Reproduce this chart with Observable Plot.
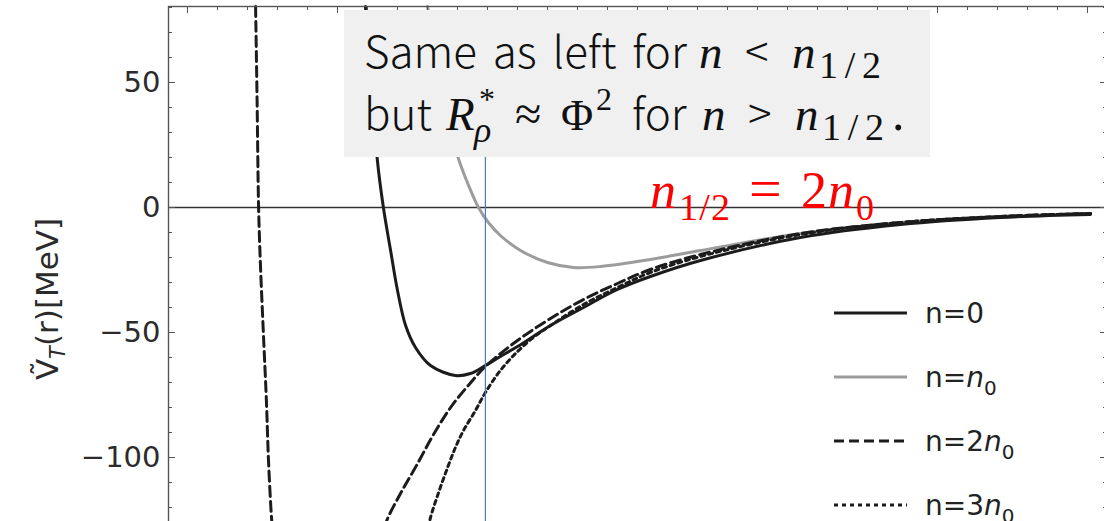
<!DOCTYPE html>
<html>
<head>
<meta charset="utf-8">
<script src="https://cdn.jsdelivr.net/npm/d3@7"></script>
<script src="https://cdn.jsdelivr.net/npm/@observablehq/plot@0.6"></script>
<style>
  html, body { margin: 0; padding: 0; background: #fff; }
  #chart { width: 1104px; height: 521px; overflow: hidden; }
</style>
</head>
<body>
<div id="chart"></div>
<script>
// Tensor potential V_T(r) [MeV] versus r for four densities.
// n = 0 (solid black)
const rN0 = [1.093, 1.113, 1.133, 1.153, 1.177, 1.200, 1.227, 1.260, 1.310, 1.393, 1.443, 1.493, 1.543, 1.600, 1.710, 1.820, 1.933, 2.043, 2.210, 2.543, 2.877, 3.210, 3.510];
const vN0 = [80.4, 49.6, 18.8, 0, -17.2, -33.2, -47.2, -56.0, -63.2, -67.2, -66.4, -63.2, -59.6, -55.6, -47.2, -40.0, -32.8, -27.6, -21.2, -12.0, -6.8, -4.0, -2.8];

// n = n0 (grey)
const rN1 = [1.300, 1.330, 1.360, 1.403, 1.437, 1.470, 1.503, 1.543, 1.610, 1.700, 1.787, 1.877, 2.043, 2.210, 2.543, 2.877, 3.210, 3.510];
const vN1 = [80.4, 58.8, 38.8, 19.6, 8.8, 0, -6.0, -11.2, -17.2, -22.0, -24.0, -23.6, -20.8, -17.2, -10.4, -6.0, -3.6, -2.4];

// n = 2n0 (dashed): inner branch dropping through the window, outer branch rising back
const rN2inner = [0.727, 0.732, 0.737, 0.743, 0.753, 0.763, 0.770, 0.780, 0.783];
const vN2inner = [80.4, 42.8, 0, -22.4, -50.4, -77.2, -101.2, -124.0, -128.0];
const rN2outer = [1.157, 1.167, 1.210, 1.267, 1.320, 1.377, 1.433, 1.493, 1.600, 1.710, 1.820, 1.933, 2.043, 2.210, 2.543, 2.877, 3.210, 3.510];
const vN2outer = [-128.0, -124.4, -114.4, -102.4, -90.8, -80.0, -71.6, -63.6, -53.2, -44.4, -36.8, -30.4, -24.8, -18.8, -10.4, -6.0, -3.6, -2.4];

// n = 3n0 (dotted)
const rN3 = [1.303, 1.310, 1.337, 1.367, 1.393, 1.420, 1.460, 1.493, 1.543, 1.600, 1.653, 1.710, 1.820, 1.933, 2.043, 2.210, 2.543, 2.877, 3.210, 3.510];
const vN3 = [-128.0, -124.0, -114.0, -104.0, -96.0, -89.2, -81.2, -74.0, -65.2, -57.6, -52.0, -47.2, -38.8, -32.0, -26.0, -19.6, -10.8, -6.0, -3.6, -2.4];

// n_{1/2} marker
const halfDensityR = [1.493];

// axes
const yLabelTicks = [50, 0, -50, -100];
const yMinorTicks = d3.range(-120, 81, 10);
const xMajorTicks = [0.5, 1.0, 1.5, 2.0, 2.5, 3.0, 3.5];
const xMinorTicks = d3.range(5, 36).map(d => d / 10);

const toRows = (rs, vs, branch) => rs.map((r, i) => ({r, v: vs[i], branch}));
const n0Rows = toRows(rN0, vN0, "a");
const n1Rows = toRows(rN1, vN1, "a");
const n2Rows = [...toRows(rN2inner, vN2inner, "inner"), ...toRows(rN2outer, vN2outer, "outer")];
const n3Rows = toRows(rN3, vN3, "a");

const minus = d => d < 0 ? "\u2212" + Math.abs(d) : String(d);
const frameGrey = "#555";
const blank = () => "";

const plot = Plot.plot({
  width: 1104,
  height: 521,
  marginLeft: 168,
  marginRight: -2,
  marginTop: 6,
  marginBottom: -11,
  style: {fontFamily: "DejaVu Sans", fontSize: "29px", color: "#2b2b2b", background: "#fff", overflow: "hidden"},
  x: {domain: [0.4367, 3.5633], axis: null},
  y: {domain: [-130, 80.4], axis: null},
  marks: [
    Plot.ruleY([0], {stroke: "#333", strokeWidth: 1.3}),
    Plot.line(n1Rows, {x: "r", y: "v", stroke: "#9c9c9c", strokeWidth: 3, curve: "catmull-rom"}),
    Plot.line(n0Rows, {x: "r", y: "v", stroke: "#1c1c1c", strokeWidth: 3, curve: "catmull-rom"}),
    Plot.line(n2Rows, {x: "r", y: "v", z: "branch", stroke: "#1c1c1c", strokeWidth: 3, strokeDasharray: "10,5", curve: "catmull-rom"}),
    Plot.line(n3Rows, {x: "r", y: "v", stroke: "#1c1c1c", strokeWidth: 3, strokeDasharray: "4,4", curve: "catmull-rom"}),
    Plot.ruleX(halfDensityR, {y1: 76.8, y2: -130, stroke: "#4a7ebf", strokeWidth: 1.2, ariaLabel: "threshold"}),
    Plot.frame({stroke: frameGrey, strokeWidth: 1.4}),
    Plot.axisY(yLabelTicks, {anchor: "left", tickSize: 0, tickPadding: 8, tickFormat: minus, label: null}),
    Plot.axisY(yMinorTicks, {anchor: "left", tickSize: -4, tickFormat: blank, label: null, stroke: frameGrey}),
    Plot.axisY(yLabelTicks, {anchor: "left", tickSize: -7, tickFormat: blank, label: null, stroke: frameGrey}),
    Plot.axisY(yMinorTicks, {anchor: "right", tickSize: -4, tickFormat: blank, label: null, stroke: frameGrey}),
    Plot.axisY(yLabelTicks, {anchor: "right", tickSize: -7, tickFormat: blank, label: null, stroke: frameGrey}),
    Plot.axisX(xMinorTicks, {anchor: "top", tickSize: -3, tickFormat: blank, label: null, stroke: frameGrey}),
    Plot.axisX(xMajorTicks, {anchor: "top", tickSize: -6, tickFormat: blank, label: null, stroke: frameGrey})
  ]
});
document.getElementById("chart").appendChild(plot);

// ---- annotations drawn into the same SVG ----
const svg = d3.select(plot);
const serif = "'Liberation Serif', 'DejaVu Serif', serif";
const body = "'Noto Sans CJK SC', 'Noto Sans', sans-serif";

// one <text> made of styled tspans; shift = baseline offset, x = absolute pen position
function richText(parent, x, y, parts, base) {
  const t = parent.append("text")
    .attr("x", x).attr("y", y)
    .attr("text-anchor", "start")
    .attr("font-family", base.family)
    .attr("font-size", base.size)
    .attr("font-weight", base.weight || null)
    .attr("word-spacing", base.wordSpacing || null)
    .attr("fill", base.fill);
  let shift = 0;
  for (const p of parts) {
    const s = t.append("tspan").text(p.t);
    const want = p.shift || 0;
    if (want !== shift) { s.attr("dy", want - shift); shift = want; }
    if (p.x != null) s.attr("x", p.x);
    if (p.dx) s.attr("dx", p.dx);
    if (p.family) s.attr("font-family", p.family);
    if (p.size) s.attr("font-size", p.size);
    if (p.italic) s.attr("font-style", "italic");
    if (p.weight) s.attr("font-weight", p.weight);
    if (p.len) s.attr("textLength", p.len).attr("lengthAdjust", "spacing");
  }
  return t;
}

// note box (sits under the n_{1/2} marker line)
svg.insert("rect", 'g[aria-label="threshold"]')
  .attr("x", 344).attr("y", 10).attr("width", 586).attr("height", 147)
  .attr("fill", "#f0f0f0");

const note = svg.append("g");
const m = {family: serif, size: 47, italic: true};
const sub = {family: serif, size: 38, shift: 10, len: 62};
const noteFont = {family: body, size: 44, weight: 300, wordSpacing: 6, fill: "#111"};
richText(note, 364, 68, [
  {t: "Same as left for "},
  {t: "n", x: 699, ...m},
  {t: "<", x: 745},
  {t: "n", x: 792, ...m},
  {t: "1/2", x: 819, ...sub}
], noteFont);
richText(note, 364, 130, [
  {t: "but"},
  {t: "R", x: 446, ...m},
  {t: "*", x: 479, family: serif, size: 32, shift: -20},
  {t: "\u03C1", x: 474, family: serif, size: 36, italic: true, shift: 12},
  {t: "\u2248", x: 515, family: serif, size: 48},
  {t: "\u03A6", x: 561, family: serif, size: 44},
  {t: "2", x: 596, family: serif, size: 32, shift: -20},
  {t: "for", x: 632},
  {t: "n", x: 702, ...m},
  {t: ">", x: 748},
  {t: "n", x: 795, ...m},
  {t: "1/2", x: 822, ...sub},
  {t: ".", x: 892, family: serif, size: 50}
], noteFont);

// red density label
richText(svg, 650, 208, [
  {t: "n", italic: true},
  {t: "1/2", x: 679, size: 38, shift: 12, len: 51},
  {t: "=", x: 749, size: 58},
  {t: "2", x: 801},
  {t: "n", x: 828, italic: true},
  {t: "0", x: 856, size: 36, shift: 12}
], {family: serif, size: 52, fill: "#ff0000"});

// y-axis title
const yTitle = svg.append("g").attr("transform", "translate(58,299) rotate(-90)");
richText(yTitle, 0, 0, [
  {t: "\u1E7C"},
  {t: "T", size: 21, italic: true, shift: 7},
  {t: "(r)[MeV]"}
], {family: "DejaVu Sans", size: 31, fill: "#2b2b2b"}).attr("text-anchor", "middle");

// legend
const legendItems = [
  {stroke: "#1c1c1c", dash: null, width: 3, parts: [{t: "n=0"}]},
  {stroke: "#9c9c9c", dash: null, width: 3, parts: [{t: "n="}, {t: "n", italic: true}, {t: "0", size: 20, shift: 8}]},
  {stroke: "#1c1c1c", dash: "10,5", width: 3, parts: [{t: "n=2"}, {t: "n", italic: true}, {t: "0", size: 20, shift: 8}]},
  {stroke: "#1c1c1c", dash: "4,4", width: 3, parts: [{t: "n=3"}, {t: "n", italic: true}, {t: "0", size: 20, shift: 8}]}
];
const legend = svg.append("g");
legendItems.forEach((d, i) => {
  const y = 313 + i * 64;
  legend.append("line").attr("x1", 834).attr("x2", 907).attr("y1", y).attr("y2", y)
    .attr("stroke", d.stroke).attr("stroke-width", d.width)
    .attr("stroke-dasharray", d.dash);
  richText(legend, 925, y + 10, d.parts, {family: "DejaVu Sans", size: 28, fill: "#222"});
});
</script>
</body>
</html>
